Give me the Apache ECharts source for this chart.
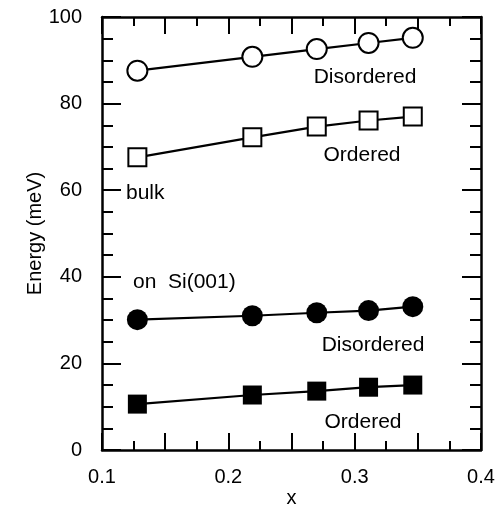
<!DOCTYPE html>
<html>
<head>
<meta charset="utf-8">
<script src="https://cdn.jsdelivr.net/npm/echarts@6/dist/echarts.min.js"></script>
<style>html,body{margin:0;padding:0;background:#fff}#c{width:498px;height:513px}</style>
</head>
<body>
<div id="c"></div>
<script>
// x positions (composition) shared by all series
const xVals = [0.128, 0.219, 0.270, 0.311, 0.346];
// bulk
const bulkDisordered = [87.6, 90.8, 92.6, 94.0, 95.2];
const bulkOrdered = [67.6, 72.2, 74.7, 76.1, 77.0];
// on Si(001)
const siDisordered = [30.1, 31.0, 31.7, 32.2, 33.1];
const siOrdered = [10.6, 12.7, 13.6, 14.5, 15.0];
// tick labels
const xTickLabels = [0.1, 0.2, 0.3, 0.4];
const yTickLabels = [0, 20, 40, 60, 80, 100];

const FONT = 'Liberation Sans';
const pairs = ys => xVals.map((x, i) => [x, ys[i]]);

function mkSeries(name, ys, symbol, filled, size) {
  return {
    name, type: 'line', data: pairs(ys), symbol, symbolSize: size,
    lineStyle: { color: '#000', width: 2.2 },
    itemStyle: { color: filled ? '#000' : '#fff', borderColor: '#000', borderWidth: filled ? 0 : 2, opacity: 1 },
    z: 5, animation: false
  };
}

const tickStyle = { color: '#000', width: 2 };
function xAx(pos, show) {
  return {
    type: 'value', position: pos, min: 0.1, max: 0.4, interval: 0.05,
    axisLine: { show: true, onZero: false, lineStyle: { color: '#000', width: 2.5 } },
    axisTick: { show: true, inside: true, length: 17, lineStyle: tickStyle },
    minorTick: { show: true, splitNumber: 2, length: 9, lineStyle: tickStyle },
    splitLine: { show: false },
    axisLabel: {
      show: show, margin: 17, color: '#000', fontFamily: FONT, fontSize: 20,
      formatter: v => { const r = Math.round(v * 100) / 100; return xTickLabels.some(t => Math.abs(t - r) < 1e-6) ? r.toFixed(1) : ''; }
    },
    name: show ? 'x' : '', nameLocation: 'middle', nameGap: 38, nameMoveOverlap: false,
    nameTextStyle: { color: '#000', fontFamily: FONT, fontSize: 20 }
  };
}
function yAx(pos, show) {
  return {
    type: 'value', position: pos, min: 0, max: 100, interval: 20,
    axisLine: { show: true, onZero: false, lineStyle: { color: '#000', width: 2.5 } },
    axisTick: { show: true, inside: true, length: 19, lineStyle: tickStyle },
    minorTick: { show: true, splitNumber: 4, length: 11, lineStyle: tickStyle },
    splitLine: { show: false },
    axisLabel: {
      show: show, margin: 20, color: '#000', fontFamily: FONT, fontSize: 20,
      padding: [6, 0, 0, 0],
      formatter: v => yTickLabels.includes(v) ? String(v) : ''
    },
    name: show ? 'Energy (meV)' : '', nameLocation: 'middle', nameGap: 57, nameMoveOverlap: false,
    nameTextStyle: { color: '#000', fontFamily: FONT, fontSize: 20 }
  };
}

const chart = echarts.init(document.getElementById('c'), null, { renderer: 'canvas' });
const txt = (text, x, y, align) => ({
  type: 'text', x, y, z: 10,
  style: { text, fill: '#000', font: '21px "' + FONT + '"', textAlign: align, textVerticalAlign: 'middle' }
});
chart.setOption({
  animation: false,
  backgroundColor: '#fff',
  grid: { left: 102, right: 17, top: 17, bottom: 61 },
  xAxis: [xAx('bottom', true), xAx('top', false)],
  yAxis: [yAx('left', true), yAx('right', false)],
  series: [
    mkSeries('bulk Disordered', bulkDisordered, 'circle', false, 20),
    mkSeries('bulk Ordered', bulkOrdered, 'rect', false, 18),
    mkSeries('Si Disordered', siDisordered, 'circle', true, 21),
    mkSeries('Si Ordered', siOrdered, 'rect', true, 19)
  ],
  graphic: [
    txt('Disordered', 365, 77, 'center'),
    txt('Ordered', 362, 155, 'center'),
    txt('bulk', 126, 193, 'left'),
    txt('on  Si(001)', 133, 282, 'left'),
    txt('Disordered', 373, 345, 'center'),
    txt('Ordered', 363, 422, 'center')
  ]
});
</script>
</body>
</html>
